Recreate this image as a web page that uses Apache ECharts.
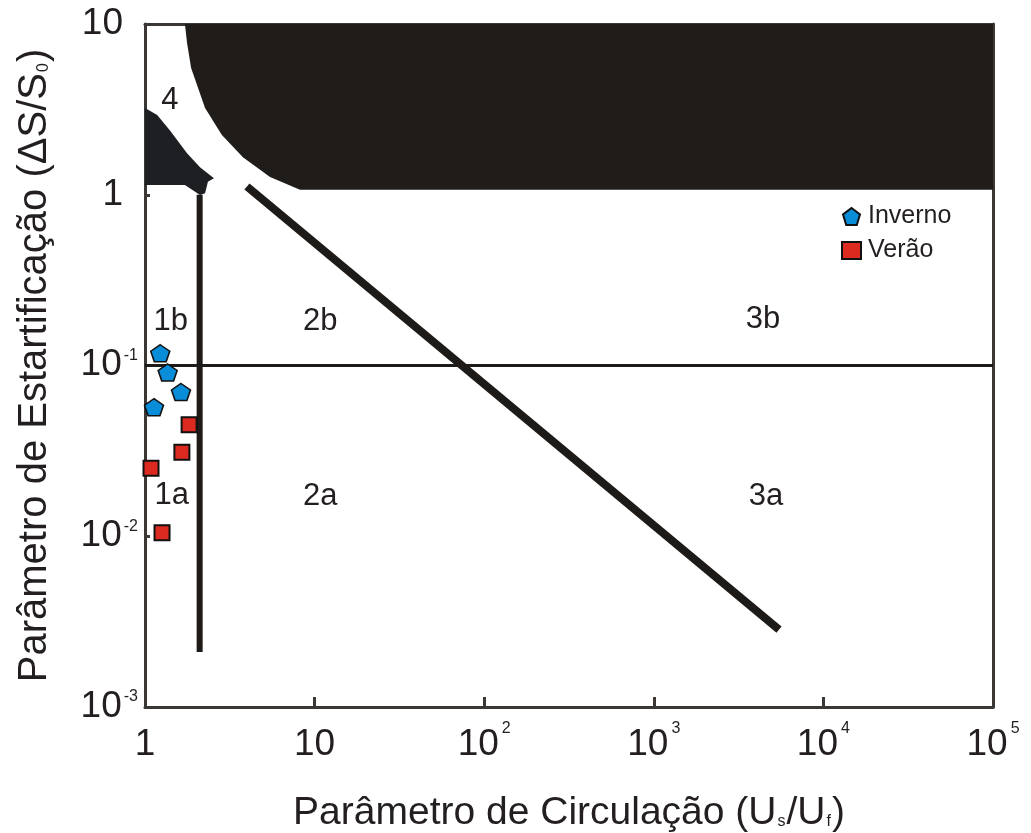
<!DOCTYPE html>
<html>
<head>
<meta charset="utf-8">
<script src="https://cdn.jsdelivr.net/npm/echarts@6/dist/echarts.min.js"></script>
<style>
  html, body { margin: 0; padding: 0; background: #fff; }
  #main { width: 1031px; height: 833px; }
</style>
</head>
<body>
<div id="main"></div>
<script>
// estuary classification diagram (circulation vs stratification)
const xTicks = [1, 10, 100, 1000, 10000, 100000];
const yTicks = [0.001, 0.01, 0.1, 1, 10];

const inverno = [[1.23, 0.118], [1.36, 0.091], [1.63, 0.070], [1.13, 0.057]];
const verao = [[1.82, 0.045], [1.65, 0.031], [1.085, 0.025], [1.26, 0.0105]];

// upper black zone (boundary of the region)
const zoneUpper = [[1.72, 10], [1.77, 7.74], [1.87, 5.52], [2.26, 3.22], [2.84, 2.24],
  [3.78, 1.66], [5.46, 1.27], [8.2, 1.07], [100000, 1.07], [100000, 10]];
// zone 4 (small dark wedge)
const zone4 = [[1, 3.22], [1.18, 2.93], [1.40, 2.39], [1.77, 1.75], [2.11, 1.45],
  [2.55, 1.25], [2.35, 1.19], [2.26, 1.02], [2.11, 0.995], [1.72, 1.14], [1, 1.14]];

const lineVertical = [[2.1, 1.0], [2.1, 0.0021]];
const lineDiagonal = [[4.16, 1.08], [5250, 0.00294]];
const lineHorizontal = [[1, 0.1], [100000, 0.1]];

const regionLabels = [
  ['4', 1.40, 3.59], ['1b', 1.42, 0.18], ['2b', 10.8, 0.18], ['3b', 4400, 0.185],
  ['1a', 1.44, 0.0174], ['2a', 10.8, 0.017], ['3a', 4590, 0.017]
];

const FONT = 'Liberation Sans, Arial, sans-serif';
const INK = '#231f20';
const FRAME = '#3b3735';
const pentagon = 'path://M50,0 L100,38 L81,100 L19,100 L0,38 Z';

function expOf(v) {
  return Math.round(Math.log10(v));
}

function polygonSeries(points, color) {
  return {
    type: 'custom',
    coordinateSystem: 'cartesian2d',
    silent: true,
    z: 1,
    clip: true,
    data: [points[0]],
    renderItem: function (params, api) {
      return {
        type: 'polygon',
        shape: { points: points.map(function (p) { return api.coord(p); }) },
        style: { fill: color }
      };
    }
  };
}

function nameRich(size) {
  return {
    n: { fontSize: size, fontFamily: FONT, color: INK, lineHeight: size + 4, verticalAlign: 'bottom' },
    sub: { fontSize: 16, fontFamily: FONT, color: INK, lineHeight: 16, verticalAlign: 'bottom', padding: [0, 1, 3, 1] }
  };
}

const myChart = echarts.init(document.getElementById('main'));

const option = {
  backgroundColor: '#fff',
  animation: false,
  grid: { left: 145, right: 38, top: 24, bottom: 126, outerBoundsMode: 'none', containLabel: false },
  legend: {
    data: ['Inverno', 'Verão'],
    orient: 'vertical',
    left: 836,
    top: 199,
    itemGap: 9,
    itemWidth: 19,
    itemHeight: 17,
    textStyle: { fontSize: 25, fontFamily: FONT, color: INK, padding: [0, 0, 0, 2] }
  },
  xAxis: [{
    type: 'log',
    logBase: 10,
    min: 1,
    max: 100000,
    name: '{n|Parâmetro de Circulação (U}{sub|s}{n|/U}{sub|f}{n|)}',
    nameLocation: 'middle',
    nameGap: 83,
    nameTextStyle: { rich: nameRich(39) },
    axisLine: { show: true, onZero: false, lineStyle: { color: FRAME, width: 3 } },
    axisTick: { show: true, inside: true, length: 10, lineStyle: { color: FRAME, width: 3 } },
    minorTick: { show: false },
    splitLine: { show: false },
    axisLabel: {
      margin: 14,
      formatter: function (v) {
        const e = expOf(v);
        if (e === 0) return '{b|1}';
        if (e === 1) return '{b|10}';
        return '{b|10}{s|' + e + '}';
      },
      rich: {
        b: { fontSize: 37, fontFamily: FONT, color: INK, lineHeight: 42, verticalAlign: 'bottom' },
        s: { fontSize: 16, fontFamily: FONT, color: INK, lineHeight: 16, verticalAlign: 'top', padding: [0, 0, 0, 3] }
      }
    }
  }, {
    type: 'log', logBase: 10, min: 1, max: 100000, position: 'top',
    axisLine: { show: true, onZero: false, lineStyle: { color: FRAME, width: 3 } },
    axisTick: { show: false }, axisLabel: { show: false }, splitLine: { show: false }
  }],
  yAxis: [{
    type: 'log',
    logBase: 10,
    min: 0.001,
    max: 10,
    name: '{n|Parâmetro de Estartificação (ΔS/S}{sub|0}{n|)}',
    nameLocation: 'middle',
    nameGap: 90,
    nameRotate: 90,
    nameTextStyle: { rich: nameRich(40) },
    axisLine: { show: true, onZero: false, lineStyle: { color: FRAME, width: 3 } },
    axisTick: { show: true, inside: true, length: 5, lineStyle: { color: FRAME, width: 3 } },
    splitLine: { show: false },
    axisLabel: {
      margin: 7,
      formatter: function (v) {
        const e = expOf(v);
        if (e === 0) return '{p|1}';
        if (e === 1) return '{p|10}';
        return '{b|10}{s|' + e + '}';
      },
      rich: {
        p: { fontSize: 37, fontFamily: FONT, color: INK, lineHeight: 36, padding: [0, 15, 0, 0] },
        b: { fontSize: 37, fontFamily: FONT, color: INK, lineHeight: 36, verticalAlign: 'bottom' },
        s: { fontSize: 16, fontFamily: FONT, color: INK, lineHeight: 16, verticalAlign: 'top', padding: [0, 0, 0, 2] }
      }
    }
  }, {
    type: 'log', logBase: 10, min: 0.001, max: 10, position: 'right',
    axisLine: { show: true, onZero: false, lineStyle: { color: FRAME, width: 3 } },
    axisTick: { show: false }, axisLabel: { show: false }, splitLine: { show: false }
  }],
  series: [
    polygonSeries(zoneUpper, '#201c19'),
    polygonSeries(zone4, '#1d1f22'),
    {
      type: 'line', data: lineVertical, symbol: 'none', silent: true, z: 2,
      lineStyle: { color: '#1e1a17', width: 6, cap: 'butt' }
    },
    {
      type: 'line', data: lineDiagonal, symbol: 'none', silent: true, z: 2,
      lineStyle: { color: '#1e1a17', width: 8, cap: 'square' }
    },
    {
      type: 'line', data: lineHorizontal, symbol: 'none', silent: true, z: 2,
      lineStyle: { color: '#1e1a17', width: 3 }
    },
    {
      type: 'scatter', silent: true, z: 3,
      data: regionLabels.map(function (r) { return { value: [r[1], r[2]], name: r[0] }; }),
      symbolSize: 1,
      itemStyle: { opacity: 0 },
      label: {
        show: true, position: 'inside', opacity: 1,
        formatter: '{b}',
        fontSize: 31, fontFamily: FONT, color: INK
      }
    },
    {
      name: 'Inverno', type: 'scatter', data: inverno, z: 5,
      symbol: pentagon, symbolSize: [19, 17],
      itemStyle: { color: '#0a8dd8', borderColor: '#111', borderWidth: 1.5, opacity: 1 }
    },
    {
      name: 'Verão', type: 'scatter', data: verao, z: 5,
      symbol: 'rect', symbolSize: 15,
      itemStyle: { color: '#dc2a20', borderColor: '#111', borderWidth: 2, opacity: 1 }
    }
  ]
};

myChart.setOption(option);
</script>
</body>
</html>
